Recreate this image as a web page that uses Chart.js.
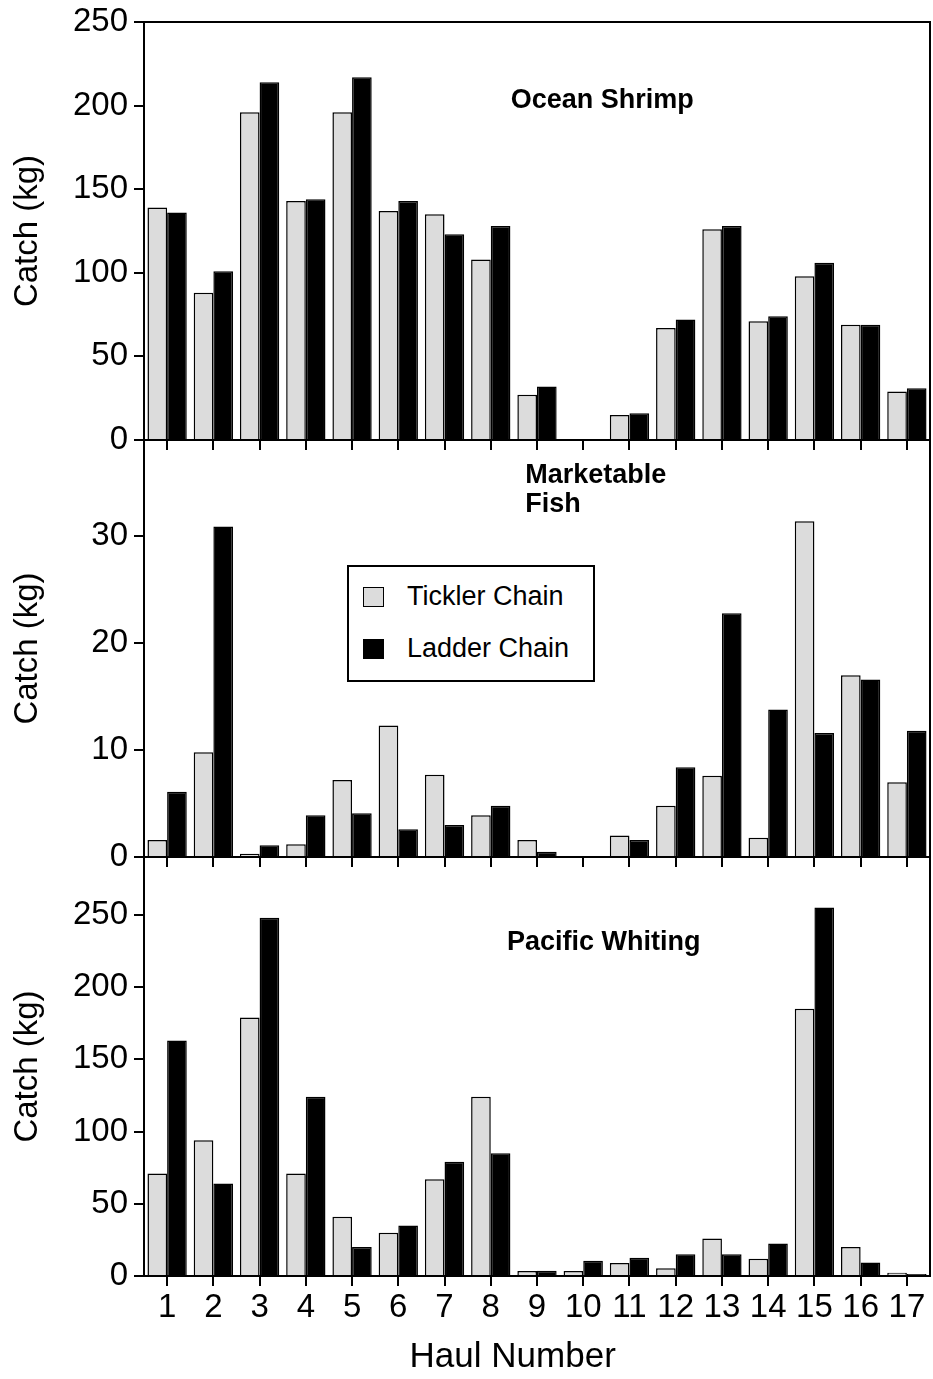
<!DOCTYPE html>
<html>
<head>
<meta charset="utf-8">
<title>Catch by haul number</title>
<script src="https://cdn.jsdelivr.net/npm/chart.js@4.4.1/dist/chart.umd.min.js"></script>
<style>
  body { margin: 0; background: #fff; }
  #wrap { position: relative; width: 933px; height: 1379px; overflow: hidden; }
  #wrap canvas { position: absolute; left: 0; }
  #legend {
    position: absolute; left: 347px; top: 565px; width: 244px; height: 113px;
    border: 2px solid #000; background: #fff;
    font-family: "Liberation Sans", Arial, sans-serif; font-size: 27px; color: #000;
  }
  #legend .item { position: absolute; left: 14px; height: 31px; line-height: 31px; display: flex; align-items: center; }
  #legend .swatch { width: 19px; height: 18px; border: 1.5px solid #000; margin-right: 23px; }
</style>
</head>
<body>
<div id="wrap">
  <canvas id="shrimpChart" width="933" height="450" style="top:0px"></canvas>
  <canvas id="fishChart" width="933" height="437" style="top:430px"></canvas>
  <canvas id="whitingChart" width="933" height="532" style="top:847px"></canvas>
  <div id="legend"></div>
</div>
<script>
// datos
const haulNumbers = ['1', '2', '3', '4', '5', '6', '7', '8', '9', '10', '11', '12', '13', '14', '15', '16', '17'];

// Ocean Shrimp (kg)
const shrimpTickler = [139, 88, 196, 143, 196, 137, 135, 108, 27, 0.5, 15, 67, 126, 71, 98, 69, 29];
const shrimpLadder = [136, 101, 214, 144, 217, 143, 123, 128, 32, 0.5, 16, 72, 128, 74, 106, 69, 31];
const shrimpTicks = [0, 50, 100, 150, 200, 250];

// Marketable Fish (kg)
const fishTickler = [1.6, 9.8, 0.3, 1.2, 7.2, 12.3, 7.7, 3.9, 1.6, 0.1, 2.0, 4.8, 7.6, 1.8, 31.4, 17.0, 7.0];
const fishLadder = [6.1, 30.9, 1.1, 3.9, 4.1, 2.6, 3.0, 4.8, 0.5, 0.1, 1.6, 8.4, 22.8, 13.8, 11.6, 16.6, 11.8];
const fishTicks = [0, 10, 20, 30];

// Pacific Whiting (kg)
const whitingTickler = [71, 94, 179, 71, 41, 30, 67, 124, 3.5, 3.5, 9, 5.3, 26, 12, 185, 20, 2.3];
const whitingLadder = [163, 64, 248, 124, 20, 35, 79, 85, 3.7, 10.6, 12.7, 15, 15, 22.5, 255, 9.3, 1.4];
const whitingTicks = [0, 50, 100, 150, 200, 250];

const FONT = '"Liberation Sans", Arial, Helvetica, sans-serif';
Chart.defaults.font.family = FONT;
Chart.defaults.color = '#000';

// marco del panel y nombre de la especie
const framePlugin = {
    id: 'frame',
    afterDraw(chart, args, opts) {
        const { ctx, chartArea: a } = chart;
        ctx.save();
        ctx.strokeStyle = '#000';
        ctx.lineWidth = 2;
        ctx.strokeRect(a.left, a.top, a.right - a.left, a.bottom - a.top);
        ctx.font = 'bold 27px ' + FONT;
        ctx.fillStyle = '#000';
        ctx.textAlign = opts.align;
        ctx.textBaseline = 'middle';
        opts.lines.forEach((txt, i) => {
            ctx.fillText(txt, a.left + opts.fx * a.width, a.top + opts.fy * a.height + i * 29);
        });
        ctx.restore();
    }
};

function makePanel(canvasId, tickler, ladder, yMax, yTicks, padTop, bottomAxis, label) {
    const ctx = document.getElementById(canvasId).getContext('2d');
    return new Chart(ctx, {
        type: 'bar',
        data: {
            labels: haulNumbers,
            datasets: [
                {
                    label: 'Tickler Chain',
                    data: tickler,
                    backgroundColor: '#dcdcdc',
                    borderColor: '#000',
                    borderWidth: 1.5,
                    barPercentage: 1,
                    categoryPercentage: 0.85
                },
                {
                    label: 'Ladder Chain',
                    data: ladder,
                    backgroundColor: '#000',
                    borderColor: '#000',
                    borderWidth: 1.5,
                    barPercentage: 1,
                    categoryPercentage: 0.85
                }
            ]
        },
        plugins: [framePlugin],
        options: {
            responsive: false,
            animation: false,
            devicePixelRatio: 1,
            layout: { padding: { top: padTop, right: 3, left: 0, bottom: 0 } },
            plugins: {
                legend: { display: false },
                tooltip: { enabled: false },
                frame: label
            },
            scales: {
                x: {
                    grid: { offset: false, drawOnChartArea: false, tickLength: 10, color: '#000', lineWidth: 2 },
                    border: { display: false },
                    ticks: {
                        display: bottomAxis,
                        autoSkip: false,
                        maxRotation: 0,
                        padding: 2,
                        font: { size: 33 }
                    },
                    title: {
                        display: bottomAxis,
                        text: 'Haul Number     ',  // espacios para correrlo a la izquierda como el original
                        font: { size: 35 },
                        padding: { top: 0, bottom: 1 }
                    },
                    afterFit(s) {
                        s.height = bottomAxis ? 103 : 10;
                        s.paddingLeft = 0;
                        s.paddingRight = 0;
                    }
                },
                y: {
                    min: 0,
                    max: yMax,
                    bounds: 'data',
                    grid: { drawOnChartArea: false, tickLength: 10, color: '#000', lineWidth: 2 },
                    border: { display: false },
                    ticks: { padding: 6, font: { size: 33 } },
                    title: {
                        display: true,
                        text: 'Catch (kg)',
                        font: { size: 33 },
                        padding: { top: 8, bottom: 0 }
                    },
                    afterBuildTicks(s) {
                        s.ticks = yTicks.map(v => ({ value: v }));
                    },
                    afterFit(s) {
                        s.width = 144;
                        s.paddingTop = 0;
                        s.paddingBottom = 0;
                    }
                }
            }
        }
    });
}

const shrimpChart = makePanel('shrimpChart', shrimpTickler, shrimpLadder, 250, shrimpTicks, 22, false,
    { lines: ['Ocean Shrimp'], fx: 0.583, fy: 0.189, align: 'center' });

const fishChart = makePanel('fishChart', fishTickler, fishLadder, 39, fishTicks, 10, false,
    { lines: ['Marketable', 'Fish'], fx: 0.485, fy: 0.086, align: 'left' });

const whitingChart = makePanel('whitingChart', whitingTickler, whitingLadder, 290, whitingTicks, 10, true,
    { lines: ['Pacific Whiting'], fx: 0.585, fy: 0.203, align: 'center' });

// leyenda dentro del panel del medio
const legendBox = document.getElementById('legend');
const items = fishChart.options.plugins.legend.labels.generateLabels(fishChart);
items.forEach((item, i) => {
    const row = document.createElement('div');
    row.className = 'item';
    row.style.top = (14 + i * 52) + 'px';
    const sw = document.createElement('span');
    sw.className = 'swatch';
    sw.style.background = item.fillStyle;
    const txt = document.createElement('span');
    txt.textContent = item.text;
    row.appendChild(sw);
    row.appendChild(txt);
    legendBox.appendChild(row);
});
</script>
</body>
</html>
